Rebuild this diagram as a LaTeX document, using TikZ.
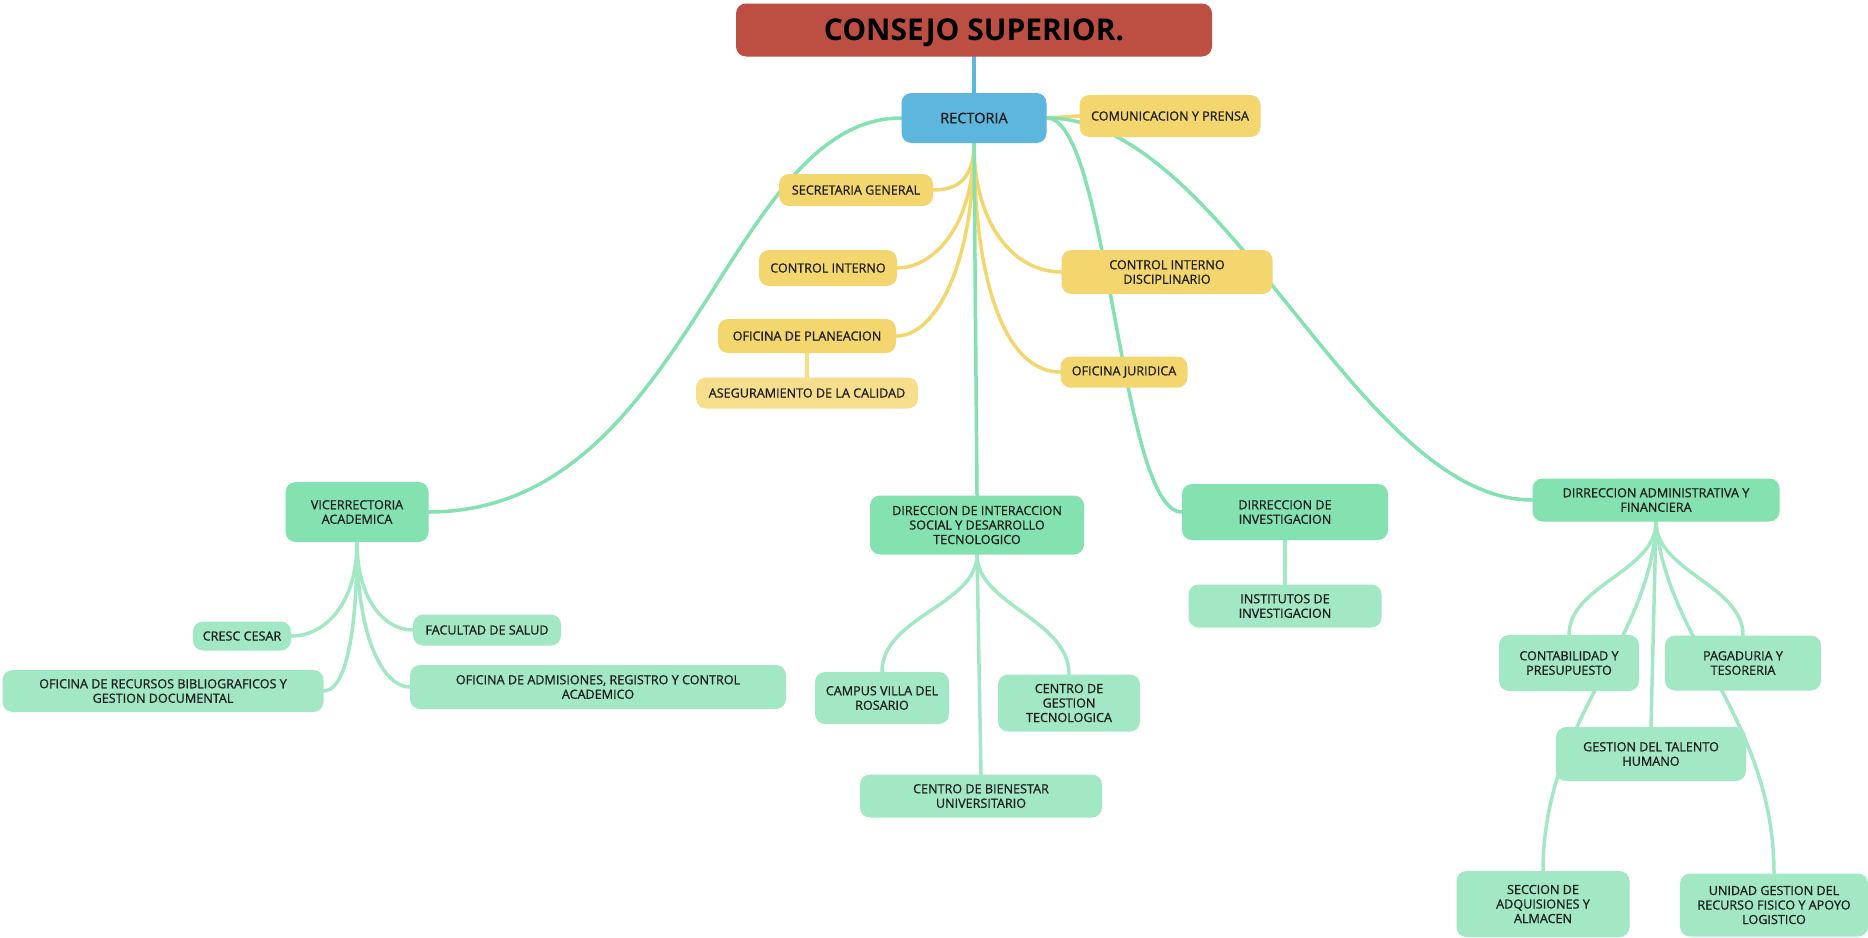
\documentclass[tikz,border=0pt]{standalone}
\usepackage{fontspec}
\setmainfont{Open Sans}
\newfontfamily\semi{Open Sans}[FakeBold=0.9]
\usepackage{xcolor}
\usetikzlibrary{backgrounds}

\definecolor{rojo}{HTML}{BC4E42}
\definecolor{azul}{HTML}{5CB6DD}
\definecolor{amarillo}{HTML}{F4D66E}
\definecolor{amarilloclaro}{HTML}{F6DE8C}
\definecolor{verde}{HTML}{84E1B0}
\definecolor{verdeclaro}{HTML}{A2E8C5}
\definecolor{texto}{HTML}{1E1E1E}

\begin{document}
\begin{tikzpicture}[x=1pt, y=-1pt,
		caja/.style={rounded corners=10pt, inner sep=2pt, align=center, text=texto, font=\semi\fontsize{12.6}{14.5}\selectfont},
		cajaroja/.style={caja, fill=rojo, text=black, text depth=0pt, font=\fontsize{30}{36}\selectfont\bfseries},
		cajaazul/.style={caja, fill=azul, font=\semi\fontsize{14.5}{17}\selectfont},
		cajaamarilla/.style={caja, fill=amarillo},
		cajaamarillaclara/.style={caja, fill=amarilloclaro},
		cajaverde/.style={caja, fill=verde},
		cajaverdeclara/.style={caja, fill=verdeclaro},
		rama/.style={line width=3.5pt, line cap=round},
	]
			\useasboundingbox (0,0) rectangle (1868,937);

			% cabeza
			\node [cajaroja, minimum width=476pt, minimum height=53pt] (consejo) at (974,30) {CONSEJO SUPERIOR.};
			\node [cajaazul, minimum width=145pt, minimum height=50pt] (rectoria) at (974,118) {RECTORIA};

			% oficinas de la rectoria
			\node [cajaamarilla, minimum width=181pt, minimum height=42pt] (comunicacion) at (1170,116) {COMUNICACION Y PRENSA};
			\node [cajaamarilla, minimum width=154pt, minimum height=32pt] (secretaria) at (856,190) {SECRETARIA GENERAL};
			\node [cajaamarilla, minimum width=138pt, minimum height=36pt] (cinterno) at (828,268) {CONTROL INTERNO};
			\node [cajaamarilla, minimum width=178pt, minimum height=34pt] (planeacion) at (807,336) {OFICINA DE PLANEACION};
			\node [cajaamarillaclara, minimum width=222pt, minimum height=31pt] (calidad) at (807,393) {ASEGURAMIENTO DE LA CALIDAD};
			\node [cajaamarilla, minimum width=211pt, minimum height=44pt] (disciplinario) at (1167,272) {CONTROL INTERNO\\DISCIPLINARIO};
			\node [cajaamarilla, minimum width=127pt, minimum height=31pt] (juridica) at (1124,372) {OFICINA JURIDICA};

			% direcciones
			\node [cajaverde, minimum width=143pt, minimum height=60pt] (vicerrectoria) at (357,512) {VICERRECTORIA\\ACADEMICA};
			\node [cajaverde, minimum width=214pt, minimum height=59pt] (interaccion) at (977,525) {DIRECCION DE INTERACCION\\SOCIAL Y DESARROLLO\\TECNOLOGICO};
			\node [cajaverde, minimum width=206pt, minimum height=56pt] (investigacion) at (1285,512) {DIRRECCION DE\\INVESTIGACION};
			\node [cajaverde, minimum width=247pt, minimum height=43pt] (administrativa) at (1656,500) {DIRRECCION ADMINISTRATIVA Y\\FINANCIERA};

			% dependencias
			\node [cajaverdeclara, minimum width=98pt, minimum height=29pt] (cresc) at (242,636) {CRESC CESAR};
			\node [cajaverdeclara, minimum width=148pt, minimum height=31pt] (salud) at (487,630) {FACULTAD DE SALUD};
			\node [cajaverdeclara, minimum width=321pt, minimum height=42pt] (recursos) at (163,691) {OFICINA DE RECURSOS BIBLIOGRAFICOS Y\\GESTION DOCUMENTAL};
			\node [cajaverdeclara, minimum width=376pt, minimum height=44pt] (admisiones) at (598,687) {OFICINA DE ADMISIONES, REGISTRO Y CONTROL\\ACADEMICO};
			\node [cajaverdeclara, minimum width=134pt, minimum height=52pt] (campus) at (882,698) {CAMPUS VILLA DEL\\ROSARIO};
			\node [cajaverdeclara, minimum width=142pt, minimum height=57pt] (cgestion) at (1069,703) {CENTRO DE\\GESTION\\TECNOLOGICA};
			\node [cajaverdeclara, minimum width=242pt, minimum height=43pt] (bienestar) at (981,796) {CENTRO DE BIENESTAR\\UNIVERSITARIO};
			\node [cajaverdeclara, minimum width=193pt, minimum height=43pt] (institutos) at (1285,606) {INSTITUTOS DE\\INVESTIGACION};
			\node [cajaverdeclara, minimum width=140pt, minimum height=56pt] (contabilidad) at (1569,663) {CONTABILIDAD Y\\PRESUPUESTO};
			\node [cajaverdeclara, minimum width=156pt, minimum height=55pt] (pagaduria) at (1743,663) {PAGADURIA Y\\TESORERIA};
			\node [cajaverdeclara, minimum width=190pt, minimum height=54pt] (talento) at (1651,754) {GESTION DEL TALENTO\\HUMANO};
			\node [cajaverdeclara, minimum width=173pt, minimum height=66pt] (almacen) at (1543,904) {SECCION DE\\ADQUISIONES Y\\ALMACEN};
			\node [cajaverdeclara, minimum width=188pt, minimum height=63pt] (logistico) at (1774,905) {UNIDAD GESTION DEL\\RECURSO FISICO Y APOYO\\LOGISTICO};

			\begin{scope}[on background layer]
				\draw [rama, azul] (consejo.south) -- (rectoria.north);

				\begin{scope}[amarillo]
					\draw [rama] (rectoria.east) -- (comunicacion.west);
					\draw [rama] (rectoria.south) .. controls +(0,35) and +(25,0) .. (secretaria.east);
					\draw [rama] (rectoria.south) .. controls +(0,85) and +(35,0) .. (cinterno.east);
					\draw [rama] (rectoria.south) .. controls +(0,120) and +(40,0) .. (planeacion.east);
					\draw [rama] (rectoria.south) .. controls +(0,85) and +(-45,0) .. (disciplinario.west);
					\draw [rama] (rectoria.south) .. controls +(0,140) and +(-55,0) .. (juridica.west);
					\draw [rama, amarilloclaro] (planeacion.south) -- (calidad.north);
				\end{scope}

				\begin{scope}[verde]
					\draw [rama] (rectoria.west) .. controls +(-175,0) and +(260,0) .. (vicerrectoria.east);
					\draw [rama] (rectoria.south) -- (interaccion.north);
					\draw [rama] (rectoria.east) .. controls +(62,0) and +(-62,0) .. (investigacion.west);
					\draw [rama] (rectoria.east) .. controls +(180,0) and +(-175,0) .. (administrativa.west);
				\end{scope}

				\begin{scope}[verdeclaro]
					\draw [rama] (vicerrectoria.south) .. controls +(0,60) and +(35,0) .. (cresc.east);
					\draw [rama] (vicerrectoria.south) .. controls +(0,100) and +(20,0) .. (recursos.east);
					\draw [rama] (vicerrectoria.south) .. controls +(0,55) and +(-30,0) .. (salud.west);
					\draw [rama] (vicerrectoria.south) .. controls +(0,100) and +(-25,0) .. (admisiones.west);

					\draw [rama] (interaccion.south) .. controls +(0,50) and +(0,-55) .. (campus.north);
					\draw [rama] (interaccion.south) .. controls +(0,50) and +(0,-55) .. (cgestion.north);
					\draw [rama] (interaccion.south) -- (bienestar.north);

					\draw [rama] (investigacion.south) -- (institutos.north);

					\draw [rama] (administrativa.south) .. controls +(0,50) and +(0,-50) .. (contabilidad.north);
					\draw [rama] (administrativa.south) .. controls +(0,50) and +(0,-50) .. (pagaduria.north);
					\draw [rama] (administrativa.south) -- (talento.north);
					\draw [rama] (administrativa.south) .. controls +(-5,120) and +(0,-150) .. (almacen.north);
					\draw [rama] (administrativa.south) .. controls +(9,118) and +(0,-154) .. (logistico.north);
				\end{scope}
			\end{scope}
		\end{tikzpicture}
\end{document}
